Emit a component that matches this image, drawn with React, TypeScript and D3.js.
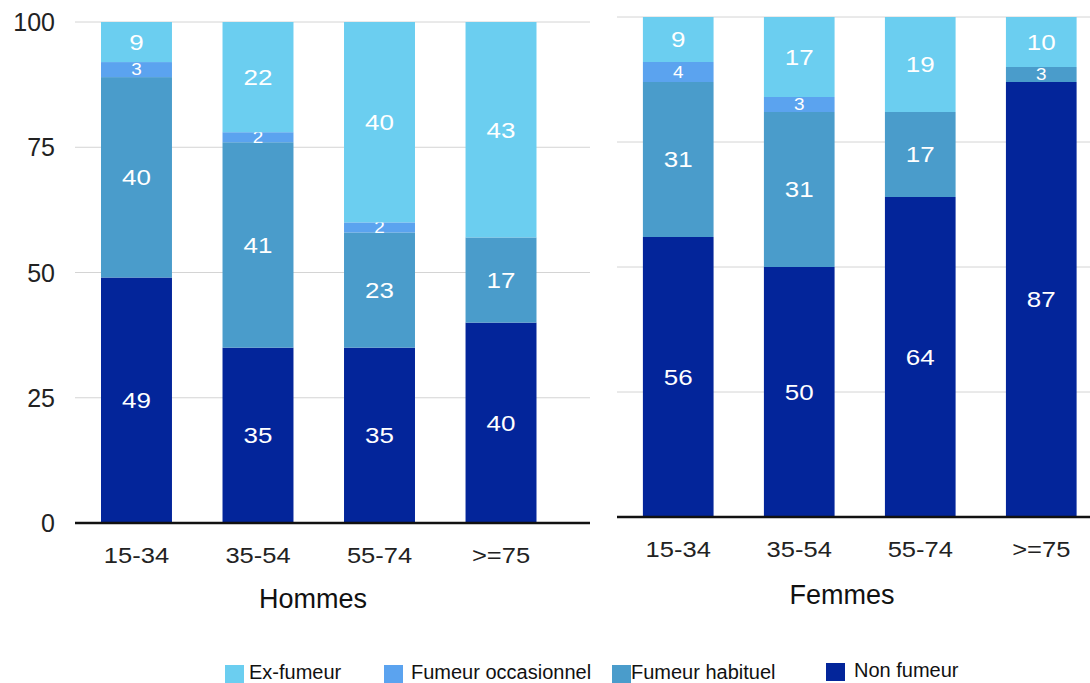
import React from "react";
import * as d3 from "d3";

const categories = ["15-34", "35-54", "55-74", ">=75"];
const seriesKeys = ["non", "habituel", "occasionnel", "ex"];
const seriesNames = ["Non fumeur", "Fumeur habituel", "Fumeur occasionnel", "Ex-fumeur"];
const seriesColors = ["#03259A", "#4A9CCB", "#5BA3EF", "#6BCEF0"];

// Hommes
const hommesNon = [49, 35, 35, 40];
const hommesHabituel = [40, 41, 23, 17];
const hommesOccasionnel = [3, 2, 2, 0];
const hommesEx = [9, 22, 40, 43];
// Femmes
const femmesNon = [56, 50, 64, 87];
const femmesHabituel = [31, 31, 17, 3];
const femmesOccasionnel = [4, 3, 0, 0];
const femmesEx = [9, 17, 19, 10];

const yTicks = [0, 25, 50, 75, 100];

const legendItems = [
  { name: "Ex-fumeur", color: seriesColors[3], sx: 225, sy: 665, tx: 249, ty: 679 },
  { name: "Fumeur occasionnel", color: seriesColors[2], sx: 384, sy: 665, tx: 411, ty: 679 },
  { name: "Fumeur habituel", color: seriesColors[1], sx: 612, sy: 665, tx: 631, ty: 679 },
  { name: "Non fumeur", color: seriesColors[0], sx: 826, sy: 663, tx: 854, ty: 677 },
];

function buildRows(non: number[], hab: number[], occ: number[], ex: number[]) {
  return categories.map((c, i) => ({ cat: c, non: non[i], habituel: hab[i], occasionnel: occ[i], ex: ex[i] }));
}

const font = "'Liberation Sans', Arial, sans-serif";

function WideText(props: { x: number; y: number; size: number; fill: string; sx?: number; anchor?: string; dy?: string; children: any }) {
  const { x, y, size, fill, sx = 1.18, anchor = "middle", dy, children } = props;
  return (
    <text transform={`translate(${x},${y}) scale(${sx},1)`} textAnchor={anchor} dy={dy}
      fontSize={size} fill={fill} fontFamily={font}>{children}</text>
  );
}

function Panel(props: {
  rows: any[];
  gx0: number; gx1: number; r0: number; r1: number;
  yTop: number; yBottom: number; showY: boolean;
  title: string; titleX: number; titleY: number; tickY: number;
}) {
  const { rows, gx0, gx1, r0, r1, yTop, yBottom, showY, title, titleX, titleY, tickY } = props;
  const x = d3.scaleBand<string>().domain(categories).range([r0, r1]).paddingInner(0.416).paddingOuter(0.214);
  const y = d3.scaleLinear().domain([0, 100]).range([yBottom, yTop]).clamp(true);
  const stacked = d3.stack<any>().keys(seriesKeys)(rows);
  return (
    <g>
      {yTicks.filter(t => t > 0).map(t => (
        <line key={t} x1={gx0} x2={gx1} y1={y(t)} y2={y(t)} stroke="#d4d4d4" strokeWidth={1} />
      ))}
      {showY && yTicks.map(t => (
        <text key={"yt" + t} x={55} y={y(t)} dy="0.36em" textAnchor="end" fontSize={25} fill="#222" fontFamily={font}>{t}</text>
      ))}
      {stacked.map((s, si) => (
        <g key={s.key}>
          {s.map((d, i) => {
            const v = (rows[i] as any)[s.key];
            if (!v) return null;
            const yt = y(d[1]);
            const yb = y(d[0]);
            const cx = (x(rows[i].cat) as number) + x.bandwidth() / 2;
            const small = v < 5;
            return (
              <g key={i}>
                <rect x={x(rows[i].cat)} y={yt} width={x.bandwidth()} height={yb - yt} fill={seriesColors[si]} />
                <WideText x={cx} y={(yt + yb) / 2} dy="0.36em" fill="#fff" size={small ? 16 : 22}>{v}</WideText>
              </g>
            );
          })}
        </g>
      ))}
      <line x1={gx0} x2={gx1} y1={yBottom} y2={yBottom} stroke="#111" strokeWidth={2.5} />
      {categories.map(c => (
        <WideText key={c} x={(x(c) as number) + x.bandwidth() / 2} y={tickY} size={22} fill="#222" sx={1.16}>{c}</WideText>
      ))}
      <text x={titleX} y={titleY} textAnchor="middle" fontSize={27} fill="#111" fontFamily={font}>{title}</text>
    </g>
  );
}

export default function App() {
  const hommes = buildRows(hommesNon, hommesHabituel, hommesOccasionnel, hommesEx);
  const femmes = buildRows(femmesNon, femmesHabituel, femmesOccasionnel, femmesEx);
  return (
    <svg width={1090} height={683} style={{ position: "absolute", left: 0, top: 0, background: "#fff" }}>
      <Panel rows={hommes} gx0={75} gx1={590} r0={75} r1={562.5} yTop={22} yBottom={523} showY={true}
        title="Hommes" titleX={313} titleY={608} tickY={563} />
      <Panel rows={femmes} gx0={617} gx1={1090} r0={617} r1={1102.5} yTop={17} yBottom={517} showY={false}
        title="Femmes" titleX={842} titleY={604} tickY={557} />
      {legendItems.map(l => (
        <g key={l.name}>
          <rect x={l.sx} y={l.sy} width={19} height={18} fill={l.color} />
          <text x={l.tx} y={l.ty} fontSize={20} fill="#111" fontFamily={font}>{l.name}</text>
        </g>
      ))}
    </svg>
  );
}
